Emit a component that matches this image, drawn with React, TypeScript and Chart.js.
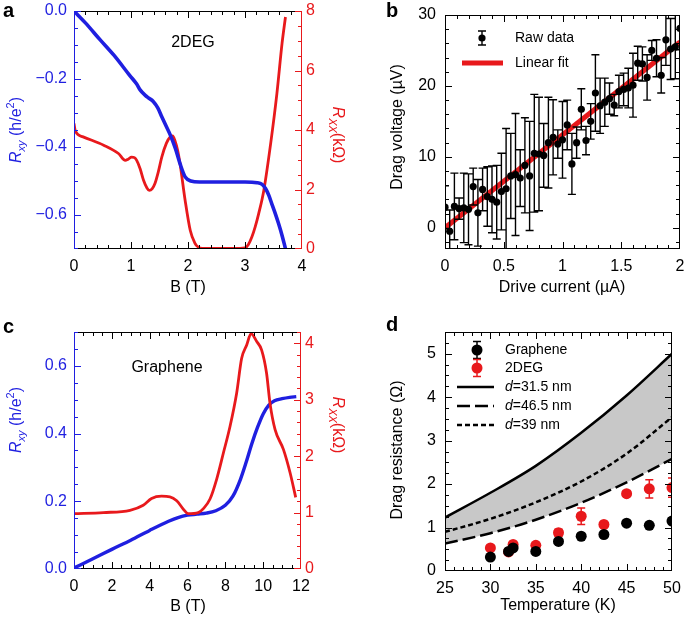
import React, { useEffect, useRef } from "react";
import { Chart, registerables } from "chart.js";
Chart.register(...registerables);

const FONT = '"Liberation Sans", Arial, Helvetica, sans-serif';
const BLUE = "#1f1fe0";
const RED = "#e8191c";
const GRAY = "#c8c8c8";

// ---------- Panel a (2DEG) ----------
const aRxyField = [0, 0.2, 0.46, 0.7, 0.98, 1.1, 1.16, 1.25, 1.31, 1.39, 1.47, 1.54, 1.62, 1.69, 1.78, 1.86, 1.95, 2.05, 2.2, 2.6, 3.0, 3.21, 3.3, 3.36, 3.42, 3.47, 3.53, 3.59, 3.65, 3.71];
const aRxy = [0, -0.035, -0.085, -0.13, -0.19, -0.215, -0.232, -0.248, -0.256, -0.266, -0.285, -0.311, -0.34, -0.365, -0.405, -0.449, -0.488, -0.5, -0.503, -0.503, -0.503, -0.505, -0.51, -0.522, -0.543, -0.567, -0.595, -0.626, -0.66, -0.699];
const aRxxField = [0, 0.02, 0.16, 0.52, 0.78, 0.9, 0.95, 1.01, 1.06, 1.1, 1.16, 1.22, 1.28, 1.32, 1.37, 1.42, 1.48, 1.54, 1.62, 1.69, 1.73, 1.77, 1.82, 1.86, 1.95, 2.04, 2.12, 2.18, 2.25, 2.5, 2.8, 3.0, 3.06, 3.12, 3.18, 3.24, 3.33, 3.45, 3.56, 3.65, 3.71];
const aRxx = [4.22, 3.99, 3.77, 3.49, 3.21, 2.98, 3.02, 3.09, 3.07, 2.98, 2.7, 2.31, 2.05, 1.97, 2.02, 2.2, 2.6, 3.09, 3.55, 3.77, 3.8, 3.65, 3.3, 2.87, 1.63, 0.62, 0.2, 0.06, 0.02, 0.02, 0.02, 0.04, 0.15, 0.4, 0.75, 1.19, 1.97, 3.54, 5.23, 6.91, 7.8];

// ---------- Panel b (drag voltage) ----------
const bCurrent = [0, 0.04, 0.08, 0.12, 0.16, 0.2, 0.24, 0.28, 0.32, 0.36, 0.4, 0.44, 0.48, 0.52, 0.56, 0.6, 0.64, 0.68, 0.72, 0.76, 0.8, 0.84, 0.88, 0.92, 0.96, 1.0, 1.04, 1.08, 1.12, 1.16, 1.2, 1.24, 1.28, 1.32, 1.36, 1.4, 1.44, 1.48, 1.52, 1.56, 1.6, 1.64, 1.68, 1.72, 1.76, 1.8, 1.84, 1.88, 1.92, 1.96, 2.0];
const bVoltage = [2.9, -0.5, 3.0, 2.7, 2.8, 2.6, 5.8, 2.1, 5.4, 4.4, 4.0, 3.6, 5.1, 5.5, 7.3, 7.5, 7.0, 8.8, 7.3, 10.5, 10.4, 10.2, 12.0, 12.75, 11.8, 12.4, 14.5, 9.0, 12.0, 16.7, 12.3, 15.0, 19.0, 17.2, 17.7, 18.2, 17.3, 19.2, 19.5, 19.7, 20.1, 23.2, 23.1, 21.2, 25.0, 23.9, 21.5, 26.5, 25.2, 25.5, 28.1];
const bError = [3, 3, 4.7, 1.5, 4.9, 5, 2.6, 4.7, 3, 4.2, 4.7, 5.2, 5.4, 8.5, 6, 8.6, 4, 6.7, 7.7, 8.3, 8, 4.5, 6.4, 5.3, 2, 5.4, 3.5, 4.3, 2.2, 2.9, 2, 2.5, 5.4, 3.9, 3.4, 2.2, 1.5, 2.3, 2.3, 2.8, 4.5, 2.4, 2.4, 3.2, 1.4, 2.6, 2.5, 3.6, 4.3, 4.5, 3];
const bFitCurrent = [0, 2];
const bFitVoltage = [0, 26.2];

// ---------- Panel c (graphene) ----------
const cRxyField = [0, 1, 2, 3, 4, 5, 5.5, 6, 6.5, 7, 7.5, 8, 8.4, 8.8, 9.1, 9.4, 9.7, 10, 10.3, 10.6, 11, 11.4, 11.75];
const cRxy = [0.003, 0.03, 0.058, 0.085, 0.114, 0.141, 0.152, 0.159, 0.162, 0.165, 0.172, 0.188, 0.215, 0.265, 0.315, 0.37, 0.418, 0.458, 0.484, 0.497, 0.503, 0.507, 0.509];
const cRxxField = [0, 1.55, 2.96, 3.66, 4.1, 4.63, 5.07, 5.43, 5.78, 6.04, 6.57, 6.84, 7.19, 7.54, 7.9, 8.25, 8.6, 8.86, 9.13, 9.36, 9.66, 9.92, 10.18, 10.36, 10.63, 11.07, 11.42, 11.72];
const cRxx = [0.98, 1.0, 1.04, 1.13, 1.25, 1.29, 1.28, 1.21, 1.06, 0.98, 1.0, 1.07, 1.24, 1.59, 2.06, 2.53, 3.12, 3.73, 3.97, 4.17, 4.03, 3.88, 3.47, 2.94, 2.47, 2.12, 1.71, 1.27];

// ---------- Panel d (drag resistance) ----------
const dTemp = [30, 32, 32.5, 35, 37.5, 40, 42.5, 45, 47.5, 50];
const dGraphene = [0.32, 0.45, 0.53, 0.45, 0.68, 0.8, 0.84, 1.1, 1.05, 1.15];
const dGrapheneErr = [0.04, 0.04, 0.04, 0.04, 0.04, 0.04, 0.04, 0.04, 0.04, 0.04];
const d2DEG = [0.53, 0.44, 0.61, 0.59, 0.88, 1.26, 1.07, 1.78, 1.89, 1.92];
const d2DEGErr = [0.04, 0.04, 0.04, 0.05, 0.08, 0.19, 0.06, 0.06, 0.21, 0.22];
const dCurveTemp = [25, 30, 35, 40, 45, 50];
const dSolid315 = [1.23, 1.8, 2.42, 3.18, 4.04, 5.0];
const dDashed465 = [0.63, 0.87, 1.18, 1.57, 2.04, 2.58];
const dDotted39 = [0.9, 1.2, 1.58, 2.06, 2.7, 3.54];

const pts = (xs: number[], ys: number[]) => xs.map((x, i) => ({ x, y: ys[i] }));

type Seg = { t: string; size: number; italic?: boolean; bold?: boolean; dy?: number };
type TextItem = { segs: Seg[]; x: number; y: number; angle?: number; color?: string; align?: "left" | "center" };
type Side = { side: "left" | "right" | "top" | "bottom"; scale: string; major: number; minor: number; color: string };
type Box = { ox: number; oy: number; w: number; h: number };

const W = 685;
const H = 623;
const BOX_A: Box = { ox: 0, oy: 0, w: 345, h: 310 };
const BOX_B: Box = { ox: 345, oy: 0, w: 340, h: 310 };
const BOX_C: Box = { ox: 0, oy: 310, w: 345, h: 313 };
const BOX_D: Box = { ox: 345, oy: 310, w: 340, h: 313 };

function fontOf(s: Seg) {
  return `${s.italic ? "italic " : ""}${s.bold ? "bold " : ""}${s.size}px ${FONT}`;
}

function drawRich(ctx: CanvasRenderingContext2D, it: TextItem) {
  ctx.save();
  ctx.translate(it.x, it.y);
  ctx.rotate(it.angle || 0);
  ctx.fillStyle = it.color || "#000";
  ctx.textBaseline = "middle";
  ctx.textAlign = "left";
  let total = 0;
  const ws = it.segs.map((s) => {
    ctx.font = fontOf(s);
    const w = ctx.measureText(s.t).width;
    total += w;
    return w;
  });
  let cx = it.align === "left" ? 0 : -total / 2;
  it.segs.forEach((s, i) => {
    ctx.font = fontOf(s);
    ctx.fillText(s.t, cx, s.dy || 0);
    cx += ws[i];
  });
  ctx.restore();
}

// Frame and inward ticks drawn as filled rectangles
function drawFrame(chart: any, sides: Side[]) {
  const ctx = chart.ctx as CanvasRenderingContext2D;
  const ca = chart.chartArea;
  const L = Math.round(ca.left);
  const R = Math.round(ca.right);
  const T = Math.round(ca.top);
  const B = Math.round(ca.bottom);
  const th = 1;
  ctx.save();
  for (const s of sides) {
    const sc = chart.scales[s.scale];
    ctx.fillStyle = s.color;
    if (s.side === "left") ctx.fillRect(L, T, th, B - T);
    if (s.side === "right") ctx.fillRect(R - th, T, th, B - T);
    if (s.side === "top") ctx.fillRect(L, T, R - L, th);
    if (s.side === "bottom") ctx.fillRect(L, B - th, R - L, th);
    const mn = Math.min(sc.min, sc.max);
    const mx = Math.max(sc.min, sc.max);
    const k0 = Math.ceil(mn / s.minor - 1e-6);
    const k1 = Math.floor(mx / s.minor + 1e-6);
    for (let k = k0; k <= k1; k++) {
      const v = k * s.minor;
      const r = v / s.major;
      const len = Math.abs(r - Math.round(r)) < 1e-6 ? 7 : 4;
      let p = Math.round(sc.getPixelForValue(v));
      if (s.side === "left" || s.side === "right") {
        p = Math.min(Math.max(p, T), B - th);
        if (s.side === "left") ctx.fillRect(L, p, len, th);
        else ctx.fillRect(R - len, p, len, th);
      } else {
        p = Math.min(Math.max(p, L), R - th);
        if (s.side === "top") ctx.fillRect(p, T, th, len);
        else ctx.fillRect(p, B - len, th, len);
      }
    }
  }
  ctx.restore();
}

function makeDecorPlugin(box: Box, sides: Side[], items: TextItem[], extra?: (ctx: CanvasRenderingContext2D) => void) {
  return {
    id: "decor",
    afterDraw(chart: any) {
      const ctx = chart.ctx as CanvasRenderingContext2D;
      drawFrame(chart, sides);
      ctx.save();
      ctx.translate(-box.ox, -box.oy);
      items.forEach((it) => drawRich(ctx, it));
      if (extra) extra(ctx);
      ctx.restore();
    },
  };
}

const errorPlugin = {
  id: "errbars",
  afterDatasetDraw(chart: any, args: any) {
    const ds = chart.data.datasets[args.index];
    if (!ds.errors) return;
    const { ctx, chartArea: ca } = chart;
    const xs = chart.scales.x;
    const ys = chart.scales.y;
    ctx.save();
    ctx.beginPath();
    ctx.rect(ca.left, ca.top, ca.right - ca.left, ca.bottom - ca.top);
    ctx.clip();
    ctx.strokeStyle = ds.errColor;
    ctx.lineWidth = ds.errWidth;
    ctx.beginPath();
    ds.data.forEach((p: any, j: number) => {
      const e = ds.errors[j];
      const x = xs.getPixelForValue(p.x);
      const y1 = ys.getPixelForValue(p.y - e);
      const y2 = ys.getPixelForValue(p.y + e);
      const c = ds.capHalf;
      ctx.moveTo(x, y1); ctx.lineTo(x, y2);
      ctx.moveTo(x - c, y1); ctx.lineTo(x + c, y1);
      ctx.moveTo(x - c, y2); ctx.lineTo(x + c, y2);
    });
    ctx.stroke();
    ctx.restore();
  },
};

function axis(pos: string, min: number, max: number, step: number, color: string, size: number, fmt: (v: number) => string, pad: number, extent: number) {
  const horiz = pos === "bottom";
  return {
    type: "linear",
    position: pos,
    min,
    max,
    grid: { display: false, drawTicks: false },
    border: { display: false },
    ticks: {
      stepSize: step,
      includeBounds: false,
      color,
      font: { family: FONT, size },
      padding: pad,
      maxRotation: 0,
      autoSkip: false,
      callback: (v: any) => fmt(Number(v)),
    },
    afterFit: (s: any) => {
      if (horiz) s.height = extent;
      else s.width = extent;
      s.paddingTop = 0;
      s.paddingBottom = 0;
      s.paddingLeft = 0;
      s.paddingRight = 0;
    },
  };
}

const fmtSigned = (v: number) => (Math.abs(v) < 1e-9 ? "0.0" : v.toFixed(1).replace("-", "\u2212"));
const fmtNum = (v: number) => String(Number(v.toFixed(2)));
const fmt1 = (v: number) => v.toFixed(1);

// plot-area edges given in page coordinates, converted to the panel's own canvas
function padFor(box: Box, L: number, R: number, T: number, B: number, wl: number, wr: number, hb: number) {
  return {
    left: L - box.ox - wl,
    right: box.ox + box.w - R - wr,
    top: T - box.oy,
    bottom: box.oy + box.h - B - hb,
  };
}

const basePlugins = { legend: { display: false }, tooltip: { enabled: false } };

const rxyTitle = (x: number, y: number): TextItem => ({
  segs: [
    { t: "R", size: 16, italic: true },
    { t: "xy", size: 11, italic: true, dy: 5 },
    { t: " (h/e", size: 16 },
    { t: "2", size: 11, dy: -6 },
    { t: ")", size: 16 },
  ],
  x, y, angle: -Math.PI / 2, color: BLUE,
});
const rxxTitle = (x: number, y: number): TextItem => ({
  segs: [
    { t: "R", size: 16, italic: true },
    { t: "XX", size: 11, italic: true, dy: 5 },
    { t: "(k\u03a9)", size: 16 },
  ],
  x, y, angle: Math.PI / 2, color: RED,
});

function configA(): any {
  const box = BOX_A;
  const sides: Side[] = [
    { side: "bottom", scale: "x", major: 1, minor: 0.2, color: "#000" },
    { side: "top", scale: "x", major: 1, minor: 0.2, color: "#000" },
    { side: "left", scale: "y", major: 0.2, minor: 0.05, color: BLUE },
    { side: "right", scale: "y2", major: 2, minor: 0.5, color: RED },
  ];
  return {
    type: "line",
    data: {
      datasets: [
        { data: pts(aRxxField, aRxx), yAxisID: "y2", borderColor: RED, borderWidth: 2.8, pointRadius: 0, cubicInterpolationMode: "monotone", order: 2 },
        { data: pts(aRxyField, aRxy), yAxisID: "y", borderColor: BLUE, borderWidth: 3.6, pointRadius: 0, cubicInterpolationMode: "monotone", order: 1 },
      ],
    },
    options: {
      responsive: false,
      animation: false,
      events: [],
      layout: { padding: padFor(box, 74, 302, 11, 249, 50, 30, 30) },
      scales: {
        x: axis("bottom", 0, 4, 1, "#000", 16, fmtNum, 8, 30),
        y: axis("left", -0.7, 0, 0.2, BLUE, 16, fmtSigned, 7, 50),
        y2: axis("right", 0, 8, 2, RED, 16, fmtNum, 4, 30),
      },
      plugins: basePlugins,
    },
    plugins: [
      makeDecorPlugin(box, sides, [
        { segs: [{ t: "a", size: 20, bold: true }], x: 3, y: 11, align: "left" },
        { segs: [{ t: "2DEG", size: 16 }], x: 193, y: 43 },
        { segs: [{ t: "B (T)", size: 16 }], x: 188, y: 288 },
        rxyTitle(17, 130),
        rxxTitle(337, 135),
      ]),
    ],
  };
}

function configB(): any {
  const box = BOX_B;
  const sides: Side[] = [
    { side: "bottom", scale: "x", major: 0.5, minor: 0.1, color: "#000" },
    { side: "top", scale: "x", major: 0.5, minor: 0.1, color: "#000" },
    { side: "left", scale: "y", major: 10, minor: 2, color: "#000" },
    { side: "right", scale: "y", major: 10, minor: 2, color: "#000" },
  ];
  return {
    type: "line",
    data: {
      datasets: [
        {
          data: pts(bCurrent, bVoltage), showLine: false, pointRadius: 3.6, pointBackgroundColor: "#000", pointBorderWidth: 0,
          errors: bError, errColor: "#000", errWidth: 1.4, capHalf: 4, order: 1,
        },
        { data: pts(bFitCurrent, bFitVoltage), borderColor: RED, borderWidth: 5, pointRadius: 0, order: 2 },
      ],
    },
    options: {
      responsive: false,
      animation: false,
      events: [],
      layout: { padding: padFor(box, 445, 680, 15, 249, 50, 0, 30) },
      scales: {
        x: axis("bottom", 0, 2, 0.5, "#000", 16, fmtNum, 8, 30),
        y: axis("left", -3, 30, 10, "#000", 16, fmtNum, 9, 50),
      },
      plugins: basePlugins,
    },
    plugins: [
      errorPlugin,
      makeDecorPlugin(
        box,
        sides,
        [
          { segs: [{ t: "b", size: 20, bold: true }], x: 386, y: 11, align: "left" },
          { segs: [{ t: "Drive current (\u00b5A)", size: 16 }], x: 562, y: 288 },
          { segs: [{ t: "Drag voltage (\u00b5V)", size: 16 }], x: 398, y: 127, angle: -Math.PI / 2 },
          { segs: [{ t: "Raw data", size: 14 }], x: 515, y: 38, align: "left" },
          { segs: [{ t: "Linear fit", size: 14 }], x: 515, y: 63, align: "left" },
        ],
        (ctx) => {
          ctx.save();
          ctx.strokeStyle = "#000";
          ctx.lineWidth = 1.4;
          ctx.beginPath();
          ctx.moveTo(482, 31); ctx.lineTo(482, 45);
          ctx.moveTo(478, 31); ctx.lineTo(486, 31);
          ctx.moveTo(478, 45); ctx.lineTo(486, 45);
          ctx.stroke();
          ctx.fillStyle = "#000";
          ctx.beginPath(); ctx.arc(482, 38, 3.6, 0, Math.PI * 2); ctx.fill();
          ctx.strokeStyle = RED; ctx.lineWidth = 5;
          ctx.beginPath(); ctx.moveTo(462, 63); ctx.lineTo(503, 63); ctx.stroke();
          ctx.restore();
        }
      ),
    ],
  };
}

function configC(): any {
  const box = BOX_C;
  const sides: Side[] = [
    { side: "bottom", scale: "x", major: 2, minor: 0.5, color: "#000" },
    { side: "top", scale: "x", major: 2, minor: 0.5, color: "#000" },
    { side: "left", scale: "y", major: 0.2, minor: 0.05, color: BLUE },
    { side: "right", scale: "y2", major: 1, minor: 0.2, color: RED },
  ];
  return {
    type: "line",
    data: {
      datasets: [
        { data: pts(cRxyField, cRxy), yAxisID: "y", borderColor: BLUE, borderWidth: 3.4, pointRadius: 0, cubicInterpolationMode: "monotone", order: 2 },
        { data: pts(cRxxField, cRxx), yAxisID: "y2", borderColor: RED, borderWidth: 2.8, pointRadius: 0, cubicInterpolationMode: "monotone", order: 1 },
      ],
    },
    options: {
      responsive: false,
      animation: false,
      events: [],
      layout: { padding: padFor(box, 74, 301, 332, 569, 50, 30, 30) },
      scales: {
        x: axis("bottom", 0, 12, 2, "#000", 16, fmtNum, 8, 30),
        y: axis("left", 0, 0.7, 0.2, BLUE, 16, fmt1, 7, 50),
        y2: axis("right", 0, 4.2, 1, RED, 16, fmtNum, 4, 30),
      },
      plugins: basePlugins,
    },
    plugins: [
      makeDecorPlugin(box, sides, [
        { segs: [{ t: "c", size: 20, bold: true }], x: 3, y: 327, align: "left" },
        { segs: [{ t: "Graphene", size: 16 }], x: 167, y: 368 },
        { segs: [{ t: "B (T)", size: 16 }], x: 188, y: 607 },
        rxyTitle(17, 420),
        rxxTitle(337, 425),
      ]),
    ],
  };
}

function configD(): any {
  const box = BOX_D;
  const sides: Side[] = [
    { side: "bottom", scale: "x", major: 5, minor: 1, color: "#000" },
    { side: "top", scale: "x", major: 5, minor: 1, color: "#000" },
    { side: "left", scale: "y", major: 1, minor: 0.25, color: "#000" },
    { side: "right", scale: "y", major: 1, minor: 0.25, color: "#000" },
  ];
  const lineBase = { pointRadius: 0, borderColor: "#000", borderWidth: 2.5, cubicInterpolationMode: "monotone" };
  return {
    type: "line",
    data: {
      datasets: [
        { ...lineBase, data: pts(dCurveTemp, dSolid315), fill: 1, backgroundColor: GRAY, order: 5 },
        { ...lineBase, data: pts(dCurveTemp, dDashed465), borderDash: [13, 5], fill: false, order: 4 },
        { ...lineBase, data: pts(dCurveTemp, dDotted39), borderDash: [5, 3], fill: false, order: 3 },
        {
          data: pts(dTemp, d2DEG), showLine: false, pointRadius: 5.5, pointBackgroundColor: RED, pointBorderWidth: 0,
          errors: d2DEGErr, errColor: RED, errWidth: 1.5, capHalf: 4, order: 2,
        },
        {
          data: pts(dTemp, dGraphene), showLine: false, pointRadius: 5.5, pointBackgroundColor: "#000", pointBorderWidth: 0,
          errors: dGrapheneErr, errColor: "#000", errWidth: 1.5, capHalf: 4, order: 1,
        },
      ],
    },
    options: {
      responsive: false,
      animation: false,
      events: [],
      layout: { padding: padFor(box, 445, 672, 332, 571, 50, 0, 30) },
      scales: {
        x: axis("bottom", 25, 50, 5, "#000", 16, fmtNum, 8, 30),
        y: axis("left", 0, 5.5, 1, "#000", 16, fmtNum, 9, 50),
      },
      plugins: { ...basePlugins, filler: { propagate: false } },
    },
    plugins: [
      errorPlugin,
      makeDecorPlugin(
        box,
        sides,
        [
          { segs: [{ t: "d", size: 20, bold: true }], x: 386, y: 325, align: "left" },
          { segs: [{ t: "Temperature (K)", size: 16 }], x: 558, y: 606 },
          { segs: [{ t: "Drag resistance (\u03a9)", size: 16 }], x: 398, y: 450, angle: -Math.PI / 2 },
          { segs: [{ t: "Graphene", size: 14 }], x: 505, y: 350, align: "left" },
          { segs: [{ t: "2DEG", size: 14 }], x: 505, y: 368, align: "left" },
          { segs: [{ t: "d", size: 14, italic: true }, { t: "=31.5 nm", size: 14 }], x: 505, y: 387, align: "left" },
          { segs: [{ t: "d", size: 14, italic: true }, { t: "=46.5 nm", size: 14 }], x: 505, y: 406, align: "left" },
          { segs: [{ t: "d", size: 14, italic: true }, { t: "=39 nm", size: 14 }], x: 505, y: 425, align: "left" },
        ],
        (ctx) => {
          ctx.save();
          const marker = (y: number, color: string) => {
            ctx.strokeStyle = color; ctx.lineWidth = 1.5;
            ctx.beginPath();
            ctx.moveTo(477, y - 8.5); ctx.lineTo(477, y + 8.5);
            ctx.moveTo(473, y - 8.5); ctx.lineTo(481, y - 8.5);
            ctx.moveTo(473, y + 8.5); ctx.lineTo(481, y + 8.5);
            ctx.stroke();
            ctx.fillStyle = color;
            ctx.beginPath(); ctx.arc(477, y, 5.5, 0, Math.PI * 2); ctx.fill();
          };
          marker(350, "#000");
          marker(368, RED);
          ctx.strokeStyle = "#000"; ctx.lineWidth = 2.5;
          const ln = (y: number, dash: number[]) => {
            ctx.setLineDash(dash);
            ctx.beginPath(); ctx.moveTo(457, y); ctx.lineTo(494, y); ctx.stroke();
          };
          ln(387, []);
          ln(406, [13, 5]);
          ln(425, [5, 3]);
          ctx.restore();
        }
      ),
    ],
  };
}

const panels: { box: Box; make: () => any }[] = [
  { box: BOX_A, make: configA },
  { box: BOX_B, make: configB },
  { box: BOX_C, make: configC },
  { box: BOX_D, make: configD },
];

export default function App() {
  const refs = useRef<(HTMLCanvasElement | null)[]>([]);
  useEffect(() => {
    const charts = panels.map((p, i) => new Chart(refs.current[i]!, p.make()));
    return () => charts.forEach((c) => c.destroy());
  }, []);
  return (
    <div style={{ position: "absolute", left: 0, top: 0, width: W, height: H, overflow: "hidden", background: "#fff" }}>
      {panels.map((p, i) => (
        <canvas
          key={i}
          ref={(el) => {
            refs.current[i] = el;
          }}
          width={p.box.w}
          height={p.box.h}
          style={{ position: "absolute", left: p.box.ox, top: p.box.oy, width: p.box.w, height: p.box.h }}
        />
      ))}
    </div>
  );
}
